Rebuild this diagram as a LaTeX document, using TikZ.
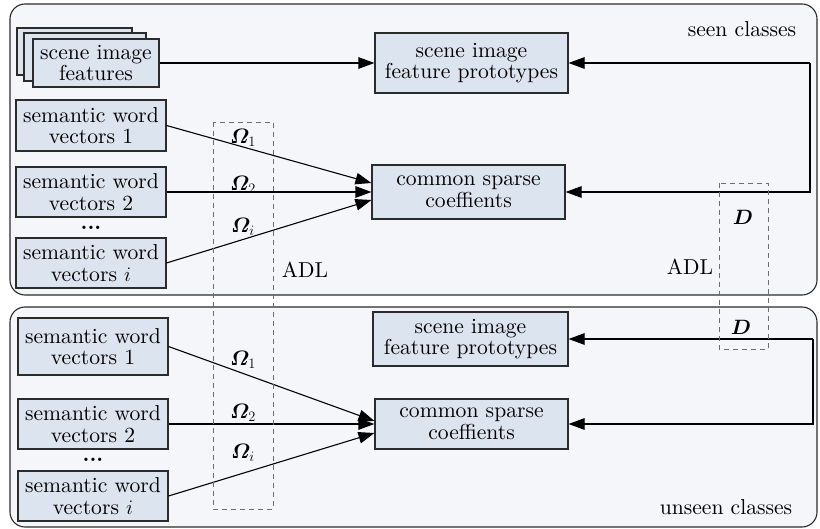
\documentclass[tikz,border=0pt]{standalone}
\usepackage{amsmath}
\usepackage{bm}
\usetikzlibrary{arrows.meta}
% use the 10pt design of Latin Modern at every size
\DeclareFontShape{TU}{lmr}{m}{n}{<-> "[lmroman10-regular]:mapping=tex-text;"}{}
\DeclareFontShape{TU}{lmr}{bx}{n}{<-> "[lmroman10-bold]:mapping=tex-text;"}{}
\definecolor{panelfill}{HTML}{F4F6F9}
\definecolor{boxfill}{HTML}{DCE4F0}
\definecolor{edgecol}{HTML}{2B2B2B}
\definecolor{dashcol}{HTML}{6E6E6E}
\begin{document}
\begin{tikzpicture}[x=1pt,y=-1pt,
  font=\fontsize{21.6}{21.5}\selectfont,
  panel/.style={draw=edgecol, fill=panelfill, line width=1.1pt, rounded corners=15pt},
  box/.style={draw=edgecol, fill=boxfill, line width=1.1pt, rectangle, align=center, inner sep=0pt},
  arr/.style={-{Triangle[length=16pt,width=11.5pt]}, line width=1.1pt, draw=black},
  adlbox/.style={draw=dashcol, dash pattern=on 5pt off 4pt, line width=0.9pt},
  lbl/.style={inner sep=0pt}]
\useasboundingbox (0,0) rectangle (820,529);

% panels
\draw[panel] (10,4) rectangle (817,295);
\draw[panel] (10,307) rectangle (817,527);

% ---------- seen classes ----------
\node[box, minimum width=115pt, minimum height=47pt] (feat3) at (74.5,51.5) {};
\node[box, minimum width=122pt, minimum height=48pt] (feat2) at (85,57) {};
\node[box, minimum width=126pt, minimum height=48pt] (feat) at (96,63) {scene image\\features};

\node[box, minimum width=150pt, minimum height=51pt] (s1) at (91,125.5) {semantic word\\vectors 1};
\node[box, minimum width=150pt, minimum height=50pt] (s2) at (91,192) {semantic word\\vectors 2};
\node[lbl] (sdots) at (91,228) {\textbf{...}};
\node[box, minimum width=150pt, minimum height=50pt] (si) at (91,263) {semantic word\\vectors $i$};

\node[box, minimum width=193pt, minimum height=60pt] (p) at (471.5,63) {scene image\\feature prototypes};
\node[box, minimum width=193pt, minimum height=54pt] (c) at (468.5,192) {common sparse\\coeffients};

\node[lbl] (seen) at (742,29) {seen classes};

\draw[arr] (feat.east) -- (p.west);
\draw[arr] (s1.east) -- ([yshift=9pt]c.west);
\draw[arr] (s2.east) -- (c.west);
\draw[arr] (si.east) -- ([yshift=-8pt]c.west);

\coordinate (rt) at (810,63);
\coordinate (rb) at (810,192);
\draw[arr] (rt) -- (p.east);
\draw[arr] (rt) -- (rb) -- (c.east);

\node[lbl] (o1) at (243,138) {$\bm{\varOmega}_1$};
\node[lbl] (o2) at (243,185) {$\bm{\varOmega}_2$};
\node[lbl] (oi) at (243,227) {$\bm{\varOmega}_i$};
\node[lbl] (dtop) at (743,217) {$\bm{D}$};

% ---------- unseen classes ----------
\node[box, minimum width=150pt, minimum height=57pt] (u1) at (93,346.5) {semantic word\\vectors 1};
\node[box, minimum width=150pt, minimum height=50pt] (u2) at (93,424) {semantic word\\vectors 2};
\node[lbl] (udots) at (93,460) {\textbf{...}};
\node[box, minimum width=150pt, minimum height=50pt] (ui) at (93,496) {semantic word\\vectors $i$};

\node[box, minimum width=195pt, minimum height=54pt] (up) at (470.5,339) {scene image\\feature prototypes};
\node[box, minimum width=193pt, minimum height=50pt] (uc) at (471.5,424) {common sparse\\coeffients};

\node[lbl] (unseen) at (726,507) {unseen classes};

\draw[arr] (u1.east) -- ([yshift=3pt]uc.west);
\draw[arr] (u2.east) -- (uc.west);
\draw[arr] (ui.east) -- ([yshift=-9pt]uc.west);

\coordinate (urt) at (813,339);
\coordinate (urb) at (813,424);
\draw[arr] (urt) -- (up.east);
\draw[arr] (urt) -- (urb) -- (uc.east);

\node[lbl] (uo1) at (243,360) {$\bm{\varOmega}_1$};
\node[lbl] (uo2) at (243,413) {$\bm{\varOmega}_2$};
\node[lbl] (uoi) at (243,453) {$\bm{\varOmega}_i$};
\node[lbl] (dbot) at (741,327) {$\bm{D}$};

% ---------- ADL regions ----------
\draw[adlbox] (213,122) rectangle (273,509);
\draw[adlbox] (719,183) rectangle (768,349);
\node[lbl] (adl1) at (305,270) {ADL};
\node[lbl] (adl2) at (690,267) {ADL};
\end{tikzpicture}
\end{document}
